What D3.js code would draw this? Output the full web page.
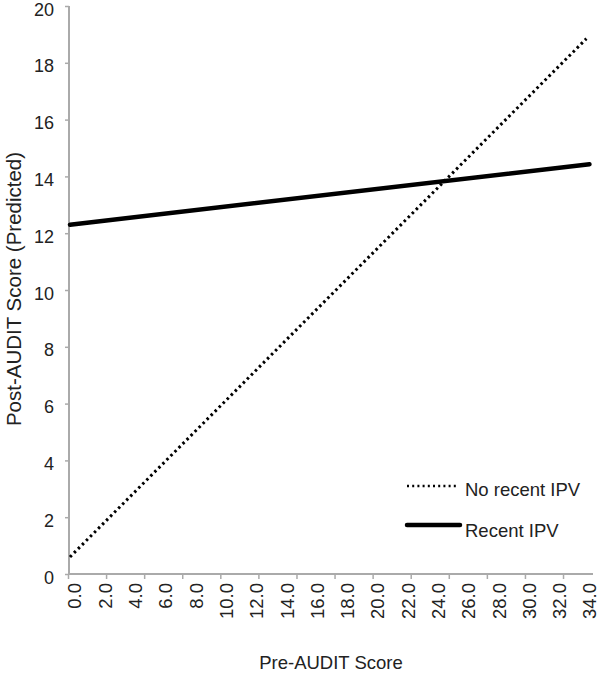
<!DOCTYPE html>
<html><head><meta charset="utf-8">
<script src="https://cdn.jsdelivr.net/npm/d3@7"></script>
<style>body{margin:0;background:#fff}svg{display:block}text{font-family:"Liberation Sans",Arial,Helvetica,sans-serif;fill:#222}</style>
</head><body><svg id="c" width="600" height="677"></svg>
<script>
const xLabels = [0,2,4,6,8,10,12,14,16,18,20,22,24,26,28,30,32,34];
const xTickMarks = [0,2.485,4.97,7.455,9.94,12.425,14.91,17.395,19.88,22.365,24.85,27.335,29.82,32.305];
const yTicks = [0,2,4,6,8,10,12,14,16,18,20];
const noRecentX = [0, 33.7];
const noRecentY = [0.6, 18.85];
const recentX = [0, 33.9];
const recentY = [12.3, 14.43];
const seriesNames = ["No recent IPV", "Recent IPV"];

const svg = d3.select("#c");
const x = d3.scaleLinear().domain([0,34]).range([70,591]);
const xLab = d3.scalePoint().domain(xLabels).range([75,590]);
const y = d3.scaleLinear().domain([0,20]).range([574,6]);
const axisColor = "#aaa";

// y axis
const ya = svg.append("g").attr("transform","translate(69,0)")
  .call(d3.axisLeft(y).tickValues(yTicks).tickSize(4).tickPadding(11).tickFormat(d3.format("d")));
ya.select(".domain").attr("stroke",axisColor).attr("stroke-width",2).attr("d","M0,6V574");
ya.selectAll(".tick line").attr("stroke",axisColor).attr("stroke-width",1.5);
ya.selectAll(".tick text").attr("font-size",18).attr("dy","0.5em").style("fill","#222");

// x axis line + tick marks
const xa = svg.append("g").attr("transform","translate(0,574)");
xa.append("path").attr("d",`M${x(0)-1},0H${x(34)+2}`).attr("stroke",axisColor).attr("stroke-width",2).attr("fill","none");
xa.selectAll("line.tm").data(xTickMarks).enter().append("line").attr("class","tm")
  .attr("x1",d=>x(d)-1.5).attr("x2",d=>x(d)-1.5).attr("y1",0).attr("y2",5)
  .attr("stroke",axisColor).attr("stroke-width",1.5);
xa.selectAll("text.xl").data(xLabels).enter().append("text").attr("class","xl")
  .attr("transform",d=>`translate(${xLab(d)},9) rotate(-90)`)
  .attr("text-anchor","end").attr("dy","0.35em").attr("font-size",18.5)
  .text(d=>d3.format(".1f")(d));

// axis titles
svg.append("text").attr("x",331).attr("y",669).attr("text-anchor","middle").attr("font-size",18.5).text("Pre-AUDIT Score");
svg.append("text").attr("transform","translate(21,289) rotate(-90)").attr("text-anchor","middle").attr("font-size",20.5).text("Post-AUDIT Score (Predicted)");

// lines
const line = d3.line().x(d=>x(d[0])).y(d=>y(d[1]));
svg.append("path").datum(d3.zip(noRecentX,noRecentY)).attr("d",line)
  .attr("fill","none").attr("stroke","#000").attr("stroke-width",3).attr("stroke-dasharray","2.5 3.2");
svg.append("path").datum(d3.zip(recentX,recentY)).attr("d",line)
  .attr("fill","none").attr("stroke","#000").attr("stroke-width",4.5).attr("stroke-linecap","round");

// legend
const lg = svg.append("g");
lg.append("line").attr("x1",407).attr("x2",458).attr("y1",486).attr("y2",486)
  .attr("stroke","#000").attr("stroke-width",2.5).attr("stroke-dasharray","2 3.2");
lg.append("text").attr("x",465).attr("y",496).attr("font-size",18.5).text(seriesNames[0]);
lg.append("line").attr("x1",407).attr("x2",460).attr("y1",525).attr("y2",525)
  .attr("stroke","#000").attr("stroke-width",4.5).attr("stroke-linecap","round");
lg.append("text").attr("x",465).attr("y",537).attr("font-size",18.5).text(seriesNames[1]);
</script></body></html>
